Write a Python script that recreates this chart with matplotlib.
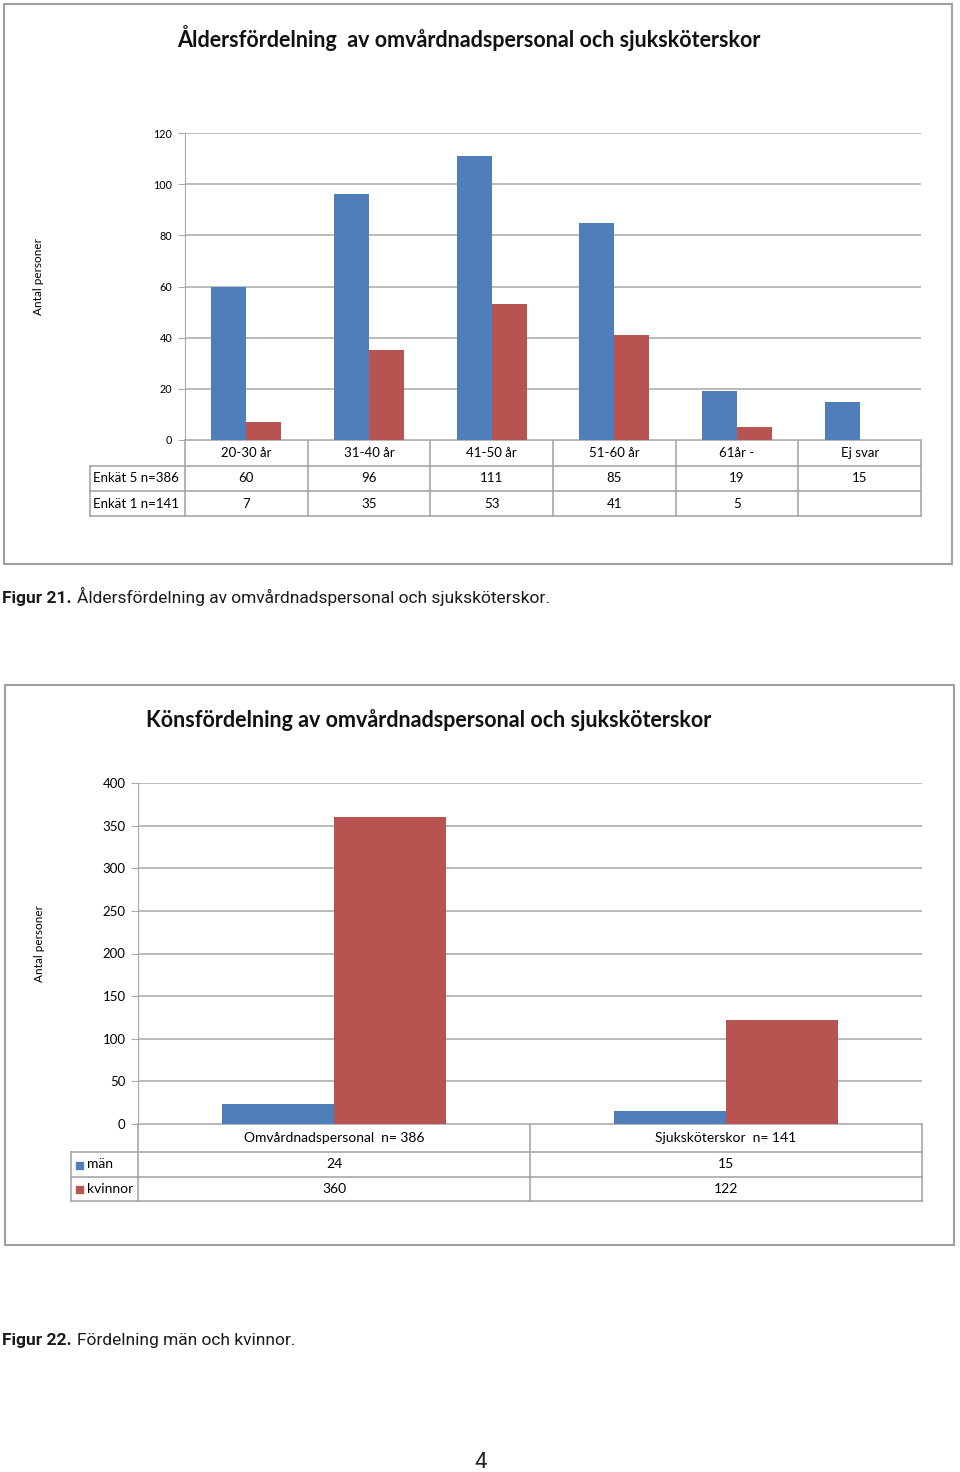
import matplotlib.pyplot as plt
from matplotlib.patches import Rectangle

W, H = 960, 1472

# --- data ---
age_groups = ["20-30 år", "31-40 år", "41-50 år", "51-60 år", "61år -", "Ej svar"]
age_series = ["Enkät 5 n=386", "Enkät 1 n=141"]
enkat5 = [60, 96, 111, 85, 19, 15]
enkat1 = [7, 35, 53, 41, 5, None]
age_ticks = [0, 20, 40, 60, 80, 100, 120]

staff_groups = ["Omvårdnadspersonal  n= 386", "Sjuksköterskor  n= 141"]
gender_series = ["män", "kvinnor"]
man = [24, 15]
kvinnor = [360, 122]
gender_ticks = [0, 50, 100, 150, 200, 250, 300, 350, 400]

BLUE = "#4f7eb9"
RED = "#b75351"
GRID = "#a8a8a8"
EDGE = "#a0a0a0"
CHART_FONT = "Lato"
TEXT_FONT = "Roboto"

fig = plt.figure(figsize=(W / 100, H / 100), dpi=100)
page = fig.add_axes([0, 0, 1, 1], zorder=0)
page.set_xlim(0, W)
page.set_ylim(H, 0)
page.axis("off")


def px_axes(l, t, r, b):
    return fig.add_axes([l / W, 1 - b / H, (r - l) / W, (b - t) / H], zorder=2)


def bar_chart(frame, title, title_xy, title_ha, plot, ticks, groups, names, series,
              tick_fs, table_fs, rows, label_left, keys):
    fx0, fy0, fx1, fy1 = frame
    page.add_patch(Rectangle((fx0, fy0), fx1 - fx0, fy1 - fy0, fill=False,
                             ec=EDGE, lw=1.5))
    page.text(*title_xy, title, ha=title_ha, va="center", fontsize=15.5,
              fontweight="bold", family=CHART_FONT, color="#111111")

    l, t, r, b = plot
    ax = px_axes(l, t, r, b)
    n = len(groups)
    w = 0.285
    colors = [BLUE, RED]
    for k, vals in enumerate(series):
        xs = [i + (k - 0.5) * w for i, v in enumerate(vals) if v is not None]
        hs = [v for v in vals if v is not None]
        ax.bar(xs, hs, w, color=colors[k], zorder=3)
    ax.set_xlim(-0.5, n - 0.5)
    ax.set_ylim(ticks[0], ticks[-1])
    ax.set_yticks(ticks)
    ax.set_xticks([])
    ax.yaxis.grid(True, color=GRID, lw=1.1)
    ax.set_axisbelow(True)
    for s in ["top", "right", "bottom"]:
        ax.spines[s].set_visible(False)
    ax.spines["left"].set_color(GRID)
    ax.tick_params(axis="y", length=5, color=GRID, labelsize=tick_fs, pad=4)
    for lab in ax.get_yticklabels():
        lab.set_family(CHART_FONT)
    ax.set_ylabel("Antal personer", family=CHART_FONT, fontsize=8.5)
    ax.yaxis.set_label_coords((fx0 + 40 - l) / (r - l), 0.5 + 10 / (b - t))

    # data table below the plot
    r0, r1, r2, r3 = rows
    cw = (r - l) / n
    page.plot([l, r], [r0, r0], color=EDGE, lw=1.1)
    for yy in (r1, r2, r3):
        page.plot([label_left, r], [yy, yy], color=EDGE, lw=1.1)
    page.plot([label_left, label_left], [r1, r3], color=EDGE, lw=1.1)
    for i in range(n + 1):
        page.plot([l + i * cw] * 2, [r0, r3], color=EDGE, lw=1.1)
    for i, g in enumerate(groups):
        cx = l + (i + 0.5) * cw
        page.text(cx, (r0 + r1) / 2, g, ha="center", va="center",
                  fontsize=table_fs, family=CHART_FONT)
        for k, vals in enumerate(series):
            ya, yb = (r1, r2) if k == 0 else (r2, r3)
            if vals[i] is not None:
                page.text(cx, (ya + yb) / 2, str(vals[i]), ha="center",
                          va="center", fontsize=table_fs, family=CHART_FONT)
    for k, name in enumerate(names):
        ya, yb = (r1, r2) if k == 0 else (r2, r3)
        x = label_left + 3
        if keys:
            page.add_patch(Rectangle((label_left + 5, (ya + yb) / 2 - 3), 7, 7,
                                     color=colors[k]))
            x = label_left + 16
        page.text(x, (ya + yb) / 2, name, ha="left", va="center",
                  fontsize=table_fs, family=CHART_FONT)
    return ax


bar_chart((4, 4, 952, 564), "Åldersfördelning  av omvårdnadspersonal och sjuksköterskor",
          (469, 38), "center", (185, 133, 921, 440), age_ticks, age_groups,
          age_series, [enkat5, enkat1], 7.8, 9.5, (440, 466, 491, 516), 90, False)

bar_chart((5, 685, 954, 1245), "Könsfördelning av omvårdnadspersonal och sjuksköterskor",
          (146, 720), "left", (138, 783, 922, 1124), gender_ticks, staff_groups,
          gender_series, [man, kvinnor], 9.5, 10, (1124, 1152, 1177, 1201), 71, True)

renderer = fig.canvas.get_renderer()


def caption(y, bold, rest):
    t1 = page.text(2, y, bold, ha="left", va="baseline", fontsize=12.5,
                   fontweight="bold", family=TEXT_FONT, color="#1a1a1a")
    x_end = t1.get_window_extent(renderer).x1
    page.text(x_end + 5, y, rest, ha="left", va="baseline", fontsize=12.5,
              family=TEXT_FONT, color="#1a1a1a")


caption(603, "Figur 21.", "Åldersfördelning av omvårdnadspersonal och sjuksköterskor.")
caption(1345, "Figur 22.", "Fördelning män och kvinnor.")
page.text(481, 1463, "4", ha="center", va="center", fontsize=16,
          family=TEXT_FONT, color="#222222")

fig.savefig("out.png", dpi=100)
